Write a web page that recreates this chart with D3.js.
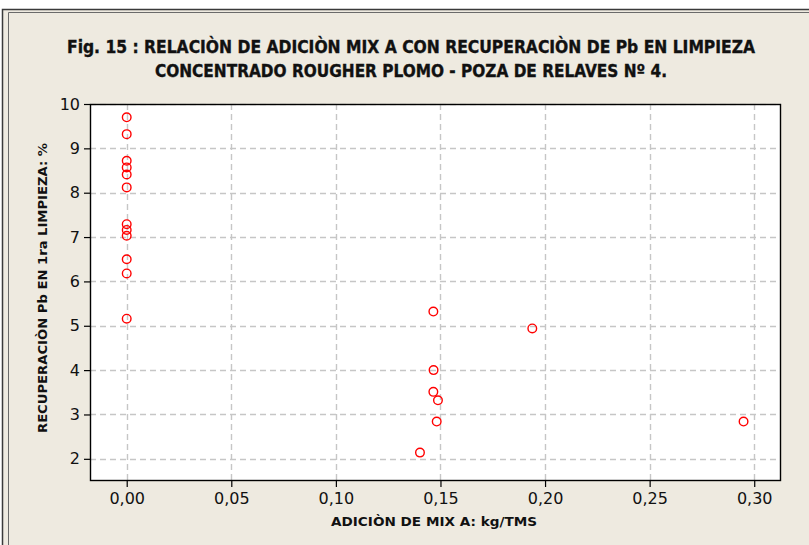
<!DOCTYPE html>
<html>
<head>
<meta charset="utf-8">
<script src="https://cdn.jsdelivr.net/npm/d3@7/dist/d3.min.js"></script>
<style>
  html, body { margin: 0; padding: 0; background: #ffffff; }
  svg { display: block; }
</style>
</head>
<body>
<div id="chart"></div>
<script>
// Dosis de MIX A (kg/TMS) y recuperación de Pb en 1ra limpieza (%)
const mixA = [0, 0, 0, 0, 0, 0, 0, 0, 0, 0, 0, 0,
              0.1466, 0.1939, 0.1467, 0.1466, 0.1488, 0.1482, 0.1402, 0.2949];
const recuperacion = [9.70, 9.32, 8.72, 8.57, 8.41, 8.12, 7.29, 7.16, 7.03, 6.50, 6.18, 5.16,
                      5.32, 4.94, 4.00, 3.51, 3.32, 2.84, 2.14, 2.84];
const xTicks = [0, 0.05, 0.10, 0.15, 0.20, 0.25, 0.30];
const yTicks = [2, 3, 4, 5, 6, 7, 8, 9, 10];
const titleLines = [
  "Fig. 15 : RELACIÒN DE ADICIÒN MIX A CON RECUPERACIÒN DE Pb EN LIMPIEZA",
  "CONCENTRADO ROUGHER PLOMO - POZA DE RELAVES Nº 4."
];
const xLabel = "ADICIÒN DE MIX A: kg/TMS";
const yLabel = "RECUPERACIÒN Pb EN 1ra LIMPIEZA: %";

const W = 809, H = 545;
const plot = { left: 90, top: 104, right: 781, bottom: 481 };

const svg = d3.select("#chart").append("svg")
  .attr("width", W).attr("height", H);

// fondo del marco
svg.append("rect").attr("x", 2).attr("y", 9).attr("width", W).attr("height", H)
  .attr("fill", "#eeeae0");
svg.append("path").attr("d", `M2.5,${H} V9.5 H${W}`)
  .attr("fill", "none").attr("stroke", "#3a3a3a").attr("stroke-width", 1.5);
svg.append("path").attr("d", `M8.5,${H} V12.5 H${W}`)
  .attr("fill", "none").attr("stroke", "#6a6a6a").attr("stroke-width", 1);

const x = d3.scaleLinear().domain([-0.01755, 0.3128]).range([plot.left, plot.right]);
const y = d3.scaleLinear().domain([1.5, 10]).range([plot.bottom, plot.top]);

// área de trazado
svg.append("rect")
  .attr("x", plot.left).attr("y", plot.top)
  .attr("width", plot.right - plot.left).attr("height", plot.bottom - plot.top)
  .attr("fill", "#ffffff");

// rejilla discontinua
const grid = svg.append("g").attr("stroke", "#c6c6c6").attr("stroke-width", 1.4)
  .attr("stroke-dasharray", "6,4");
grid.selectAll("line.v").data(xTicks).join("line").attr("class", "v")
  .attr("x1", d => Math.round(x(d)) + 0.5).attr("x2", d => Math.round(x(d)) + 0.5)
  .attr("y1", plot.top).attr("y2", plot.bottom);
grid.selectAll("line.h").data(yTicks).join("line").attr("class", "h")
  .attr("x1", plot.left).attr("x2", plot.right)
  .attr("y1", d => Math.round(y(d)) + 0.5).attr("y2", d => Math.round(y(d)) + 0.5);

// ejes
const fmt = d3.format(".2f");
const xAxis = d3.axisBottom(x).tickValues(xTicks)
  .tickFormat(d => fmt(d).replace(".", ",")).tickSizeOuter(0).tickSize(6).tickPadding(6);
const yAxis = d3.axisLeft(y).tickValues(yTicks).tickFormat(d3.format("d"))
  .tickSizeOuter(0).tickSize(6).tickPadding(4);

const gx = svg.append("g").attr("transform", `translate(0,${plot.bottom})`).call(xAxis);
const gy = svg.append("g").attr("transform", `translate(${plot.left},0)`).call(yAxis);
[gx, gy].forEach(g => {
  g.select(".domain").remove();
  g.selectAll(".tick line").attr("stroke", "#000").attr("stroke-width", 1.2);
  g.selectAll(".tick text").attr("fill", "#111")
    .style("font-family", "'DejaVu Sans', Verdana, sans-serif").style("font-size", "16px");
});

// marco negro del área
svg.append("rect")
  .attr("x", plot.left + 0.5).attr("y", plot.top + 0.5)
  .attr("width", plot.right - plot.left - 1).attr("height", plot.bottom - plot.top - 1)
  .attr("fill", "none").attr("stroke", "#000").attr("stroke-width", 1.4);

// puntos
const data = mixA.map((v, i) => ({ x: v, y: recuperacion[i] }));
svg.append("g").selectAll("circle").data(data).join("circle")
  .attr("cx", d => x(d.x)).attr("cy", d => y(d.y)).attr("r", 4.3)
  .attr("fill", "none").attr("stroke", "#ff0000").attr("stroke-width", 1.4);

// títulos
const titleFont = "'DejaVu Sans Condensed', 'DejaVu Sans', Verdana, sans-serif";
const tLens = [688, 512];
const tBase = [53, 77];
titleLines.forEach((t, i) => {
  svg.append("text").attr("x", 411).attr("y", tBase[i])
    .attr("text-anchor", "middle")
    .attr("textLength", tLens[i]).attr("lengthAdjust", "spacingAndGlyphs")
    .style("font-family", titleFont).style("font-weight", "bold")
    .style("font-size", "17.5px").attr("fill", "#111")
    .attr("stroke", "#111").attr("stroke-width", 0.35).text(t);
});

svg.append("text").attr("x", 434).attr("y", 526)
  .attr("text-anchor", "middle")
  .attr("textLength", 206).attr("lengthAdjust", "spacingAndGlyphs")
  .style("font-family", "'DejaVu Sans', Verdana, sans-serif").style("font-weight", "bold")
  .style("font-size", "12.5px").attr("fill", "#111").text(xLabel);

svg.append("text")
  .attr("transform", "translate(47,288) rotate(-90)")
  .attr("text-anchor", "middle")
  .attr("textLength", 290).attr("lengthAdjust", "spacingAndGlyphs")
  .style("font-family", "'DejaVu Sans', Verdana, sans-serif").style("font-weight", "bold")
  .style("font-size", "12.5px").attr("fill", "#111").text(yLabel);
</script>
</body>
</html>
